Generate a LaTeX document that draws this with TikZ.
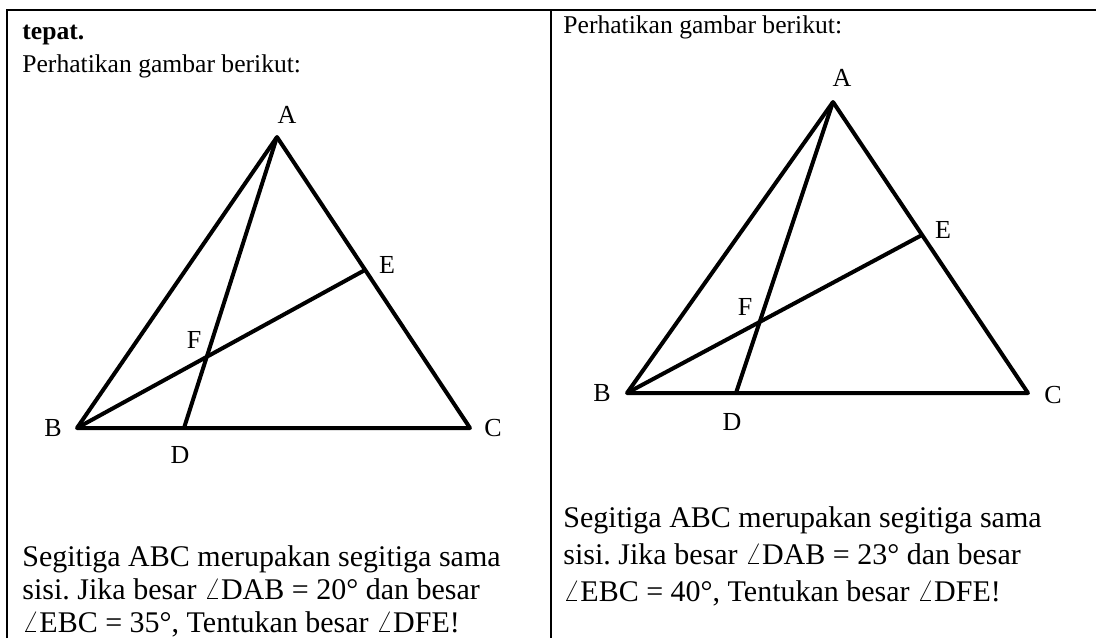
\documentclass[tikz,border=0pt]{standalone}
\usepackage{fontspec}
\setmainfont{Liberation Serif}
\frenchspacing
\begin{document}
\begin{tikzpicture}[x=0.5pt,y=-0.5pt]
  \tikzset{
    txt/.style={anchor=base west,inner sep=0,font=\fontsize{15}{17}\selectfont},
    head/.style={txt,font=\fontsize{12.8}{15}\selectfont},
    lbl/.style={inner sep=0,font=\fontsize{13}{14}\selectfont},
    side/.style={line width=2pt,line join=round},
    rule/.style={line width=1.2pt}
  }
  \useasboundingbox (0,0) rectangle (1096,638);
  % table lines
  \coordinate (tl) at (7,10);
  \coordinate (tr) at (1096,10);
  \coordinate (tm) at (551,10);
  \coordinate (bl) at (7,638);
  \coordinate (bm) at (551,638);
  \draw[rule] (bl) -- (tl) -- (tr);
  \draw[rule] (tm) -- (bm);

  % left cell
  \node[head] (t1) at (22,39) {\textbf{tepat.}};
  \node[head] (t2) at (22,72) {Perhatikan gambar berikut:};
  \coordinate (A1) at (277,137);
  \coordinate (B1) at (77,428);
  \coordinate (C1) at (470,428);
  \coordinate (D1) at (184,428);
  \coordinate (E1) at (365,270);
  \begin{scope}[every node/.style={lbl}]
    \node (lA1) at (287,115) {A};
    \node (lB1) at (53,428) {B};
    \node (lC1) at (493,428) {C};
    \node (lD1) at (180,455) {D};
    \node (lE1) at (387,265) {E};
    \node (lF1) at (194,340) {F};
  \end{scope}
  \draw[side] (A1) -- (B1) -- (C1) -- cycle;
  \draw[side] (A1) -- (D1);
  \draw[side] (B1) -- (E1);
  \node[txt] (s1) at (22,566) {Segitiga ABC merupakan segitiga sama};
  \node[txt] (s2) at (22,599) {sisi. Jika besar $\angle$DAB = 20° dan besar};
  \node[txt] (s3) at (22,632) {$\angle$EBC = 35°, Tentukan besar $\angle$DFE!};

  % right cell
  \node[head] (t3) at (563,33) {Perhatikan gambar berikut:};
  \coordinate (A2) at (833,102);
  \coordinate (B2) at (627,393);
  \coordinate (C2) at (1028,393);
  \coordinate (D2) at (736,393);
  \coordinate (E2) at (922,235);
  \begin{scope}[every node/.style={lbl}]
    \node (lA2) at (842,78) {A};
    \node (lB2) at (602,393) {B};
    \node (lC2) at (1053,395) {C};
    \node (lD2) at (732,422) {D};
    \node (lE2) at (943,230) {E};
    \node (lF2) at (745,307) {F};
  \end{scope}
  \draw[side] (A2) -- (B2) -- (C2) -- cycle;
  \draw[side] (A2) -- (D2);
  \draw[side] (B2) -- (E2);
  \node[txt] (s4) at (563,527) {Segitiga ABC merupakan segitiga sama};
  \node[txt] (s5) at (563,564) {sisi. Jika besar $\angle$DAB = 23° dan besar};
  \node[txt] (s6) at (563,601) {$\angle$EBC = 40°, Tentukan besar $\angle$DFE!};
\end{tikzpicture}
\end{document}
